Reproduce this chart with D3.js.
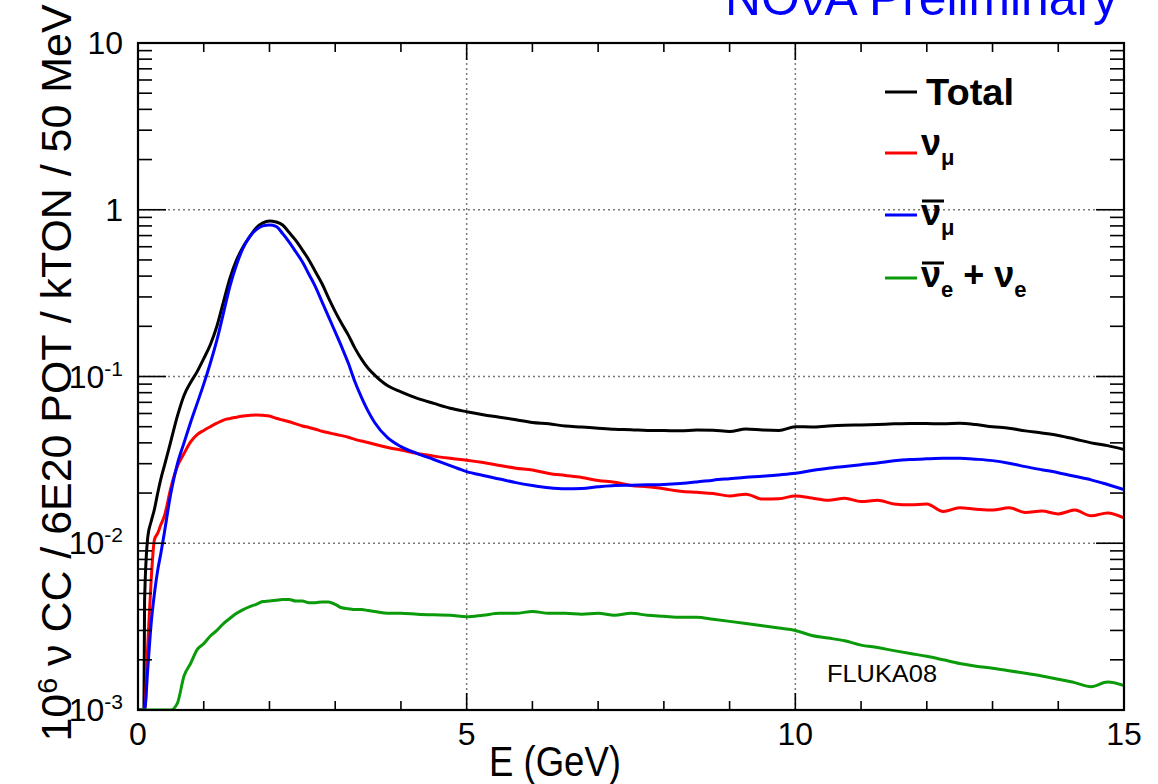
<!DOCTYPE html>
<html><head><meta charset="utf-8">
<script src="https://cdn.jsdelivr.net/npm/d3@7"></script>
<style>body{margin:0;background:#fff} text{font-family:"Liberation Sans",Arial,Helvetica,sans-serif}</style>
</head><body><svg id="c" width="1158" height="784"></svg>
<script>
// ---- data ----
const energies = [0,0.09,0.1,0.15,0.2,0.25,0.3,0.35,0.4,
 0.5,0.6,0.7,0.8,0.9,1.0,1.1,1.2,1.3,1.4,1.5,1.6,1.7,1.8,1.9,2.0,2.1,2.2,2.3,2.4,2.5,2.6,2.7,2.8,2.9,3.0,3.1,3.2,3.3,3.4,3.5,3.6,
 3.8,4.0,
 4.25,4.5,4.75,5.0,5.25,5.5,5.75,6.0,6.25,6.5,6.75,7.0,7.25,7.5,7.75,8.0,8.25,8.5,8.75,9.0,9.25,9.5,9.75,10.0,10.25,10.5,10.75,11.0,11.25,11.5,11.75,12.0,12.25,12.5,12.75,13.0,13.25,13.5,13.75,14.0,14.25,14.5,14.75,15.0];

const total = [0,0,0.0045,0.011,0.0135,0.016,0.020,0.0245,0.029,
 0.041,0.058,0.077,0.092,0.107,0.128,0.155,0.20,0.28,0.39,0.50,0.60,0.69,0.78,0.835,0.857,0.845,0.81,0.73,0.655,0.575,0.50,0.425,0.36,0.295,0.245,0.207,0.177,0.148,0.127,0.112,0.102,
 0.088,0.081,
 0.074,0.069,0.0645,0.0615,0.059,0.057,0.055,0.053,0.052,0.0505,0.0498,0.049,0.0483,0.048,0.0475,0.0474,0.0472,0.0478,0.0476,0.0468,0.0485,0.0478,0.0475,0.050,0.0498,0.0505,0.051,0.0512,0.0515,0.052,0.0523,0.0522,0.052,0.0525,0.0515,0.050,0.049,0.0472,0.0458,0.0443,0.0422,0.040,0.0385,0.0365];

const numu = [0,0,0,0.0025,0.006,0.0105,0.0115,0.013,0.0145,
 0.0215,0.029,0.0345,0.0405,0.0448,0.0475,0.050,0.0525,0.0548,0.056,0.057,0.058,0.0585,0.0588,0.0585,0.058,0.0562,0.0548,0.0535,0.052,0.0505,0.0495,0.0483,0.047,0.046,0.045,0.0442,0.0432,0.042,0.041,0.0402,0.0392,
 0.0375,0.0362,
 0.0345,0.0333,0.0323,0.0315,0.0305,0.0293,0.0282,0.0275,0.0262,0.0255,0.0248,0.0238,0.0232,0.0222,0.0218,0.0212,0.0205,0.0202,0.0199,0.0192,0.0197,0.0184,0.0185,0.0192,0.0187,0.0181,0.0186,0.0178,0.0181,0.0172,0.0170,0.0172,0.0155,0.0163,0.0160,0.0158,0.0163,0.0153,0.0156,0.0150,0.0158,0.0146,0.0152,0.0142];

const numubar = [0,0,0,0.0018,0.0033,0.005,0.0069,0.0088,0.0115,
 0.020,0.030,0.040,0.053,0.069,0.090,0.12,0.165,0.24,0.35,0.47,0.59,0.69,0.76,0.80,0.81,0.795,0.72,0.64,0.56,0.487,0.41,0.345,0.28,0.228,0.185,0.15,0.12,0.093,0.075,0.062,0.053,
 0.0428,0.038,
 0.0345,0.0318,0.0292,0.0269,0.0255,0.0243,0.0231,0.0222,0.0215,0.0212,0.0213,0.0218,0.0222,0.0223,0.0224,0.0225,0.0228,0.0233,0.0239,0.0244,0.0249,0.0252,0.0257,0.0263,0.0273,0.0282,0.0289,0.0296,0.0303,0.0312,0.0318,0.0321,0.0323,0.0323,0.0319,0.0313,0.0302,0.0288,0.0276,0.0265,0.0252,0.0240,0.0225,0.021];

const nue = [0,0,0,0,0,0,0,0,0,
 0,0.0011,0.0016,0.0019,0.0023,0.0025,0.00278,0.003,0.0033,0.00355,0.0038,0.004,0.00417,0.0043,0.00447,0.0045,0.00455,0.0046,0.0046,0.0045,0.0045,0.0044,0.0044,0.00445,0.00445,0.0043,0.0041,0.00405,0.0040,0.0040,0.00395,0.0039,
 0.0038,0.0038,
 0.00375,0.00372,0.0037,0.00362,0.0037,0.0038,0.0038,0.0039,0.0038,0.0038,0.00375,0.0038,0.0037,0.0038,0.0037,0.00365,0.0036,0.0036,0.0035,0.0034,0.0033,0.0032,0.0031,0.0030,0.0028,0.0027,0.0026,0.00245,0.00237,0.00227,0.00218,0.0021,0.0020,0.0019,0.00183,0.00178,0.00172,0.00166,0.0016,0.00153,0.00146,0.00138,0.00147,0.0014];

const xMajorTicks = [0,5,10,15];
const xMinorTicks = [1,2,3,4,6,7,8,9,11,12,13,14];
const yDecades = [0.001,0.01,0.1,1,10];
const yLabelBase = ["10","10","10","1","10"];
const yLabelExp = ["-3","-2","-1","",""];
const yMinorMultipliers = [2,3,4,5,6,7,8,9];
const gridX = [5,10];
const gridY = [0.01,0.1,1];

// ---- drawing ----
const W = 1158, H = 784;
const m = {l:138, r:1124, t:43, b:710};
const svg = d3.select("#c");
svg.append("rect").attr("width",W).attr("height",H).attr("fill","#fff");

const x = d3.scaleLinear().domain([0,15]).range([m.l,m.r]);
const y = d3.scaleLog().domain([1e-3,10]).range([m.b,m.t]);

svg.append("defs").append("clipPath").attr("id","clip")
  .append("rect").attr("x",m.l).attr("y",m.t).attr("width",m.r-m.l).attr("height",m.b-m.t);

// grid
svg.selectAll(".gx").data(gridX).enter().append("line")
  .attr("x1",d=>x(d)).attr("x2",d=>x(d)).attr("y1",m.t).attr("y2",m.b)
  .attr("stroke","#7a7a7a").attr("stroke-width",1.5).attr("stroke-dasharray","2,3");
svg.selectAll(".gy").data(gridY).enter().append("line")
  .attr("y1",d=>y(d)).attr("y2",d=>y(d)).attr("x1",m.l).attr("x2",m.r)
  .attr("stroke","#7a7a7a").attr("stroke-width",1.5).attr("stroke-dasharray","2,3");

// curves
const line = d3.line()
  .x((d,i)=>x(energies[i]))
  .y(d=>y(Math.max(d,1e-3)))
  .curve(d3.curveMonotoneX);
const series = [
  {v:total, c:"#000000"},
  {v:numu, c:"#ff0000"},
  {v:numubar, c:"#0000ff"},
  {v:nue, c:"#0a9a0a"}
];
const gC = svg.append("g").attr("clip-path","url(#clip)");
gC.selectAll("path").data(series).enter().append("path")
  .attr("d",d=>line(d.v)).attr("fill","none").attr("stroke",d=>d.c)
  .attr("stroke-width",3).attr("stroke-linejoin","round");

// ticks
const tk = svg.append("g").attr("stroke","#000").attr("stroke-width",1.6);
const xMajLen = 17, xMinLen = 9, yMajLen = 28, yMinLen = 14;
xMajorTicks.forEach(d=>{
  tk.append("line").attr("x1",x(d)).attr("x2",x(d)).attr("y1",m.b).attr("y2",m.b-xMajLen);
  tk.append("line").attr("x1",x(d)).attr("x2",x(d)).attr("y1",m.t).attr("y2",m.t+xMajLen);
});
xMinorTicks.forEach(d=>{
  tk.append("line").attr("x1",x(d)).attr("x2",x(d)).attr("y1",m.b).attr("y2",m.b-xMinLen);
  tk.append("line").attr("x1",x(d)).attr("x2",x(d)).attr("y1",m.t).attr("y2",m.t+xMinLen);
});
yDecades.forEach(d=>{
  tk.append("line").attr("y1",y(d)).attr("y2",y(d)).attr("x1",m.l).attr("x2",m.l+yMajLen);
  tk.append("line").attr("y1",y(d)).attr("y2",y(d)).attr("x1",m.r).attr("x2",m.r-yMajLen);
});
yDecades.slice(0,-1).forEach(dec=>{
  yMinorMultipliers.forEach(k=>{
    const v = dec*k;
    tk.append("line").attr("y1",y(v)).attr("y2",y(v)).attr("x1",m.l).attr("x2",m.l+yMinLen);
    tk.append("line").attr("y1",y(v)).attr("y2",y(v)).attr("x1",m.r).attr("x2",m.r-yMinLen);
  });
});

// frame
svg.append("rect").attr("x",m.l).attr("y",m.t).attr("width",m.r-m.l).attr("height",m.b-m.t)
  .attr("fill","none").attr("stroke","#000").attr("stroke-width",2.2);

// tick labels
svg.selectAll(".xl").data(xMajorTicks).enter().append("text")
  .attr("x",d=>x(d)).attr("y",m.b+35).attr("text-anchor","middle")
  .attr("font-size",32).text(d=>d);
yDecades.forEach((d,i)=>{
  const t = svg.append("text").attr("x",m.l-15).attr("y",y(d)+11)
    .attr("text-anchor","end").attr("font-size",32);
  t.append("tspan").text(yLabelBase[i]);
  if (yLabelExp[i]) t.append("tspan").attr("font-size",21).attr("dy",-12).text(yLabelExp[i]);
});

// axis titles
svg.append("text").attr("x",555).attr("y",776).attr("text-anchor","middle")
  .attr("font-size",42).attr("textLength",132).attr("lengthAdjust","spacingAndGlyphs")
  .text("E (GeV)");
const yt = svg.append("text").attr("transform","translate(71,373) rotate(-90)")
  .attr("text-anchor","middle").attr("font-size",42)
  .attr("textLength",737).attr("lengthAdjust","spacingAndGlyphs");
yt.append("tspan").text("10");
yt.append("tspan").attr("font-size",28).attr("dy",-14).text("6");
yt.append("tspan").attr("dy",14).text(" ν CC / 6E20 POT / kTON / 50 MeV");

// title
svg.append("text").attr("x",725).attr("y",15).attr("font-size",50).attr("fill","#0000ff")
  .attr("textLength",393).attr("lengthAdjust","spacingAndGlyphs").text("NOνA Preliminary");

// FLUKA08 label
svg.append("text").attr("x",827).attr("y",682).attr("font-size",23)
  .attr("textLength",110).attr("lengthAdjust","spacingAndGlyphs").text("FLUKA08");

// legend
const legY = [92,153,215,278];
const legColors = ["#000000","#ff0000","#0000ff","#0a9a0a"];
legY.forEach((ly,i)=>{
  svg.append("line").attr("x1",885).attr("x2",917).attr("y1",ly).attr("y2",ly)
    .attr("stroke",legColors[i]).attr("stroke-width",3);
});
svg.append("text").attr("x",926).attr("y",105).attr("font-size",37).attr("font-weight","bold")
  .attr("textLength",88).attr("lengthAdjust","spacingAndGlyphs").text("Total");
function nuLabel(yb, sub, bar, extra){
  const t = svg.append("text").attr("x",921).attr("y",yb).attr("font-weight","bold").attr("font-size",36);
  t.append("tspan").text("ν");
  t.append("tspan").attr("font-size",22).attr("dy",10).text(sub);
  if (extra){
    t.append("tspan").attr("dy",-10).text(" + ν");
    t.append("tspan").attr("font-size",22).attr("dy",10).text(extra);
  }
  if (bar) svg.append("line").attr("x1",922).attr("x2",944).attr("y1",yb-24).attr("y2",yb-24)
      .attr("stroke","#000").attr("stroke-width",3);
}
nuLabel(155,"μ",false);
nuLabel(225,"μ",true);
nuLabel(287,"e",true,"e");
</script></body></html>
